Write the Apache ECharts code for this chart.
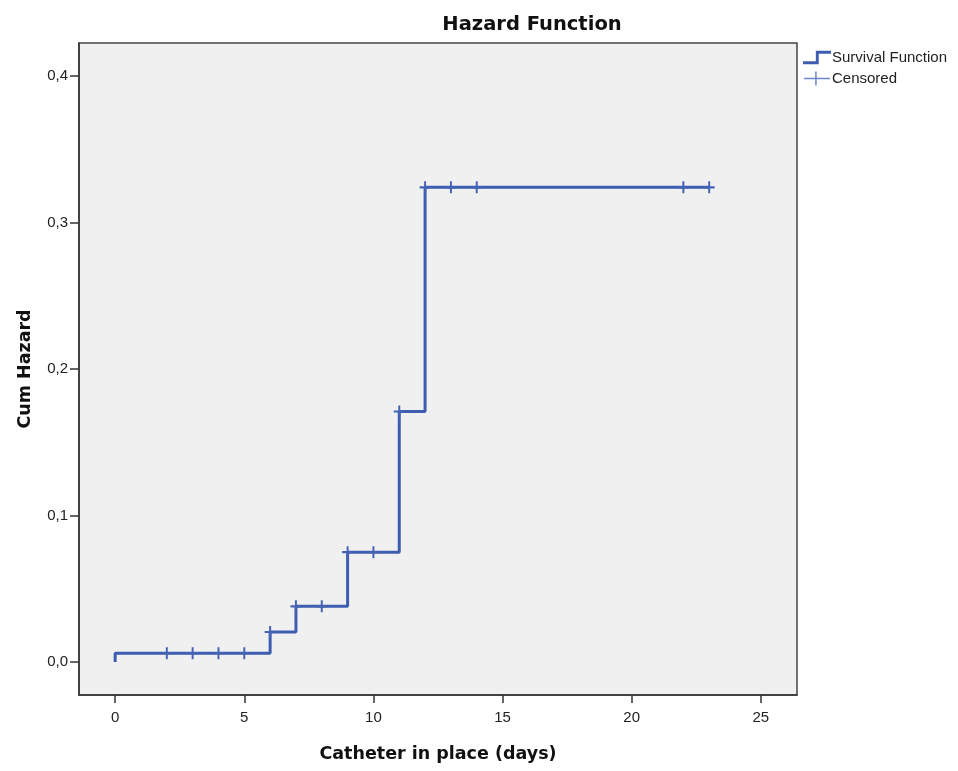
<!DOCTYPE html>
<html><head><meta charset="utf-8">
<script src="https://cdn.jsdelivr.net/npm/echarts@6/dist/echarts.min.js"></script>
<style>html,body{margin:0;padding:0;background:#fff}#c{width:958px;height:771px}</style>
</head><body><div id="c"></div>
<script>
// Step points of the cumulative hazard (time in days, cum hazard)
const stepTimes = [0, 0, 6, 7, 9, 11, 12, 23];
const stepHazard = [0, 0.006, 0.0205, 0.038, 0.075, 0.171, 0.324, 0.324];
// Censored observations
const censTimes = [2, 3, 4, 5, 6, 7, 8, 9, 10, 11, 12, 13, 14, 22, 23];
const censHazard = [0.006, 0.006, 0.006, 0.006, 0.0205, 0.038, 0.038, 0.075, 0.075, 0.171, 0.324, 0.324, 0.324, 0.324, 0.324];
const xTicks = [0, 5, 10, 15, 20, 25];
const yTicks = [0, 0.1, 0.2, 0.3, 0.4];

const lineColor = '#3f5db0';
const censColor = '#4563b4';
const font = 'Arial, "Liberation Sans", sans-serif';
const boldFont = '"DejaVu Sans", Arial, sans-serif';

const chart = echarts.init(document.getElementById('c'));
chart.setOption({
  animation: false,
  backgroundColor: '#fff',
  title: {
    text: 'Hazard Function', left: 527, top: 10, textAlign: 'center',
    textStyle: { fontFamily: boldFont, fontSize: 19.5, fontWeight: 'bold', color: '#111' }
  },
  legend: {
    orient: 'vertical', left: 798, top: 45, itemGap: 6,
    itemWidth: 28, itemHeight: 14,
    textStyle: { fontFamily: font, fontSize: 15, color: '#222', padding: [0, 0, 0, -4] },
    data: [
      { name: 'Survival Function', icon: 'path://M0,9h11v-9h13v2.5h-10.5v9h-13.5z', itemStyle: { color: lineColor } },
      { name: 'Censored', icon: 'path://M0,5.8h24v1.4h-24zM10.3,0h1.4v13h-1.4z', itemStyle: { color: '#6a86cf' } }
    ]
  },
  grid: {
    left: 79, top: 43, width: 718, height: 652, show: true, outerBoundsMode: 'none',
    backgroundColor: '#f0f0f0', borderColor: '#444', borderWidth: 1.5
  },
  xAxis: {
    type: 'value', min: -1.4, max: 26.4,
    name: 'Catheter in place (days)', nameLocation: 'middle', nameGap: 50,
    nameTextStyle: { fontFamily: boldFont, fontSize: 17.5, fontWeight: 'bold', color: '#111' },
    axisLine: { show: true, onZero: false, lineStyle: { color: '#333', width: 1.5 } },
    axisTick: { show: true, length: 8, lineStyle: { color: '#333', width: 1.5 }, customValues: xTicks },
    axisLabel: { fontFamily: font, fontSize: 15, color: '#222', margin: 15, customValues: xTicks, formatter: v => String(v) },
    splitLine: { show: false }
  },
  yAxis: {
    type: 'value', min: -0.0225, max: 0.4225,
    name: 'Cum Hazard', nameLocation: 'middle', nameGap: 45, nameRotate: 90,
    nameTextStyle: { fontFamily: boldFont, fontSize: 17.5, fontWeight: 'bold', color: '#111' },
    axisLine: { show: true, onZero: false, lineStyle: { color: '#333', width: 1.5 } },
    axisTick: { show: true, length: 9, lineStyle: { color: '#333', width: 1.5 }, customValues: yTicks },
    axisLabel: { fontFamily: font, fontSize: 15, color: '#222', margin: 11, customValues: yTicks,
      formatter: v => v.toFixed(1).replace('.', ',') },
    splitLine: { show: false }
  },
  series: [
    {
      name: 'Survival Function', type: 'line', step: 'end', showSymbol: false,
      data: stepTimes.map((t, i) => [t, stepHazard[i]]),
      lineStyle: { color: lineColor, width: 3 }, itemStyle: { color: lineColor }, z: 2
    },
    {
      name: 'Censored', type: 'scatter',
      data: censTimes.map((t, i) => [t, censHazard[i]]),
      symbol: 'path://M4.1,0h1.8v10h-1.8zM0,4.1h10v1.8h-10z', symbolSize: [11, 12],
      itemStyle: { color: censColor, opacity: 1 }, z: 3
    }
  ]
});
</script></body></html>
